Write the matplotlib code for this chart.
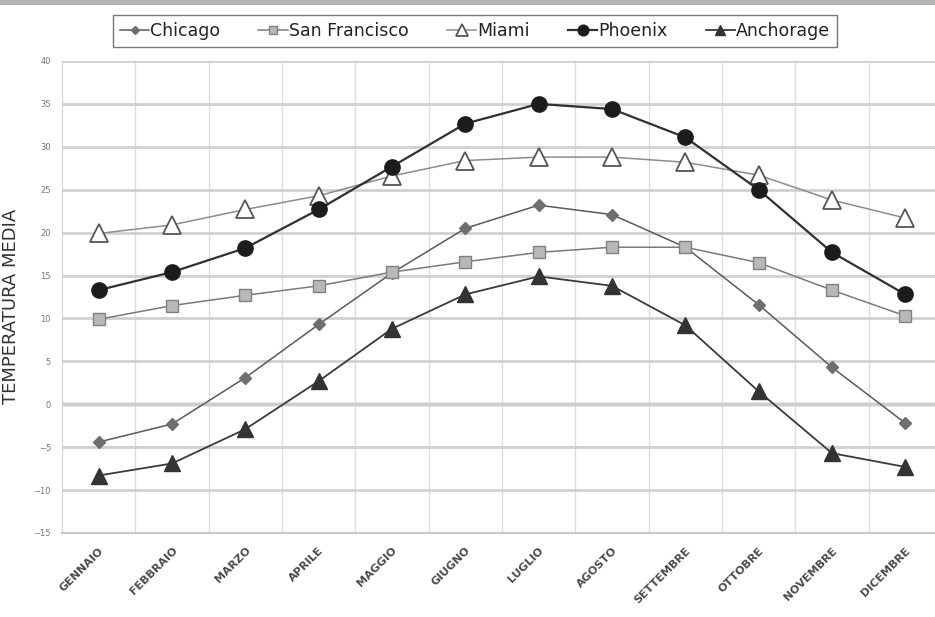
import numpy as np
import matplotlib.pyplot as plt
from matplotlib.patches import Rectangle

plt.rcParams['font.family'] = ['DejaVu Sans']

# Temperature medie mensili (gradi C)
mesi = ['GENNAIO', 'FEBBRAIO', 'MARZO', 'APRILE', 'MAGGIO', 'GIUGNO',
        'LUGLIO', 'AGOSTO', 'SETTEMBRE', 'OTTOBRE', 'NOVEMBRE', 'DICEMBRE']
chicago = [-4.4, -2.3, 3.1, 9.3, 15.3, 20.5, 23.2, 22.1, 18.3, 11.6, 4.3, -2.2]
san_francisco = [9.9, 11.5, 12.7, 13.8, 15.4, 16.6, 17.7, 18.3, 18.3, 16.5, 13.3, 10.3]
miami = [19.9, 20.9, 22.7, 24.3, 26.6, 28.4, 28.8, 28.8, 28.2, 26.7, 23.8, 21.7]
phoenix = [13.3, 15.4, 18.2, 22.7, 27.7, 32.7, 35.0, 34.4, 31.1, 25.0, 17.7, 12.8]
anchorage = [-8.3, -6.9, -2.9, 2.7, 8.8, 12.8, 14.9, 13.8, 9.2, 1.5, -5.7, -7.3]

fig = plt.figure(figsize=(9.35, 6.17), dpi=100)
# striscia grigia in alto
fig.patches.append(Rectangle((0, 1 - 5 / 617), 1, 5 / 617, transform=fig.transFigure,
                             facecolor='#b4b4b4', edgecolor='none'))

ax = fig.add_axes([62 / 935, 1 - 533 / 617, 880 / 935, 472 / 617])
x = np.arange(len(mesi))

ax.plot(x, chicago, color='#5a5a5a', lw=1.1, marker='D', ms=6,
        mfc='#6e6e6e', mec='#6e6e6e', label='Chicago', zorder=3)
ax.plot(x, san_francisco, color='#7a7a7a', lw=1.1, marker='s', ms=9,
        mfc='#b8b8b8', mec='#808080', mew=1.0, label='San Francisco', zorder=3)
ax.plot(x, miami, color='#8c8c8c', lw=1.1, marker='^', ms=13,
        mfc='white', mec='#555555', mew=1.3, label='Miami', zorder=3)
ax.plot(x, phoenix, color='#303030', lw=1.6, marker='o', ms=11,
        mfc='#1c1c1c', mec='#1c1c1c', label='Phoenix', zorder=4)
ax.plot(x, anchorage, color='#3a3a3a', lw=1.3, marker='^', ms=11,
        mfc='#333333', mec='#333333', label='Anchorage', zorder=3)

ax.set_xlim(-0.5, 11.5)
ax.set_ylim(-15, 40)
ax.set_yticks(np.arange(-15, 41, 5))
ax.set_xticks(x)
ax.set_xticks(np.arange(0.5, 11, 1), minor=True)

ax.grid(axis='y', which='major', color='#d0d0d0', lw=2.0, zorder=0)
ax.grid(axis='x', which='minor', color='#dcdcdc', lw=1.0, zorder=0)
ax.axhline(0, color='#a8a8a8', lw=2.5, zorder=1)

for s in ['top', 'right']:
    ax.spines[s].set_visible(False)
ax.spines['left'].set_color('#d0d0d0')
ax.spines['bottom'].set_color('#c8c8c8')
ax.spines['bottom'].set_linewidth(1.5)

ax.tick_params(axis='both', which='both', length=0)
ax.tick_params(axis='y', labelsize=6, labelcolor='#777777', pad=8)
ax.set_xticklabels(mesi, rotation=45, ha='right', va='top', rotation_mode='anchor',
                   fontsize=8, fontweight='bold', color='#4a4a4a')
ax.tick_params(axis='x', pad=9)

ax.set_ylabel('TEMPERATURA MEDIA', fontsize=13, color='#333333')
ax.yaxis.set_label_coords(-42 / 880, 0.48)

leg = fig.legend(loc='center', bbox_to_anchor=(475 / 935, 1 - 31 / 617), ncol=5,
                 fontsize=12.5, frameon=True, fancybox=False, markerscale=0.7,
                 handlelength=1.7, handletextpad=0.05, columnspacing=2.2,
                 borderpad=0.4)
leg.get_frame().set_edgecolor('#555555')
leg.get_frame().set_linewidth(1.0)
for t in leg.get_texts():
    t.set_color('#222222')

fig.savefig('out.png', dpi=100)
